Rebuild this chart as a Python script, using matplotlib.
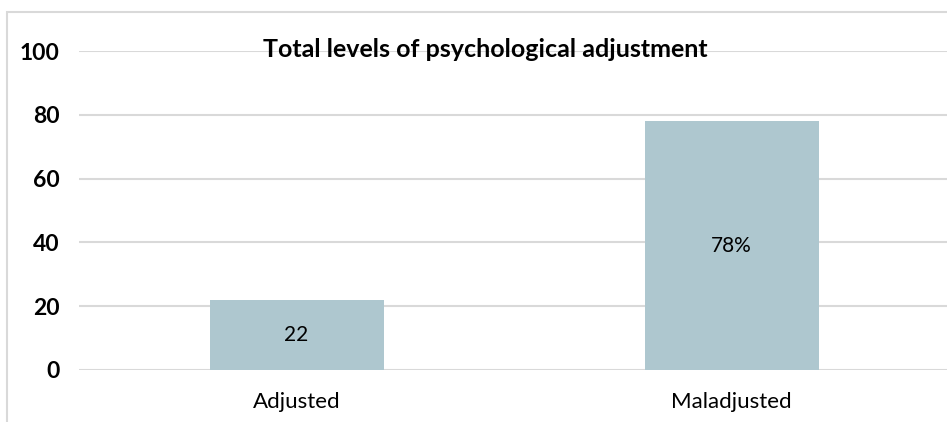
import matplotlib
matplotlib.use("Agg")
import matplotlib.pyplot as plt
from matplotlib.patches import Rectangle

categories = ["Adjusted", "Maladjusted"]
values = [22, 78]
bar_labels = ["22", "78%"]
yticks = [0, 20, 40, 60, 80, 100]
title = "Total levels of psychological adjustment"

plt.rcParams['font.family'] = ['Lato', 'DejaVu Sans']

W, H = 947, 422
fig = plt.figure(figsize=(W / 100, H / 100), dpi=100)

# chart border (light grey, cut off at the right and bottom)
fig.patches.append(Rectangle((7 / W, -0.05), 1.0, (H - 12) / H + 0.05,
                             transform=fig.transFigure, fill=False,
                             edgecolor='#D9D9D9', linewidth=1.5))

ax = fig.add_axes([79 / W, 1 - 370 / H, 870 / W, (370 - 51) / H])
ax.set_ylim(0, 100)
ax.set_xlim(-0.5, 1.5)

bars = ax.bar(range(len(categories)), values, width=0.4, color='#AEC7CF', zorder=2)
for b, lab in zip(bars, bar_labels):
    ax.text(b.get_x() + b.get_width() / 2, b.get_height() / 2, lab,
            ha='center', va='center', fontsize=15, color='black', zorder=3)

ax.set_yticks(yticks)
ax.set_yticklabels([str(t) for t in yticks], fontsize=16.5, fontweight='bold')
ax.set_xticks(range(len(categories)))
ax.set_xticklabels(categories, fontsize=16)
ax.tick_params(axis='y', length=0, pad=14)
ax.tick_params(axis='x', length=0, pad=16)
ax.grid(axis='y', color='#D9D9D9', linewidth=1.5, zorder=0)
ax.set_axisbelow(True)
for s in ax.spines.values():
    s.set_visible(False)

fig.text(263 / W, 1 - 57 / H, title, ha='left', va='baseline',
         fontsize=18, fontweight='bold', zorder=5)

fig.savefig("out.png", dpi=100)
